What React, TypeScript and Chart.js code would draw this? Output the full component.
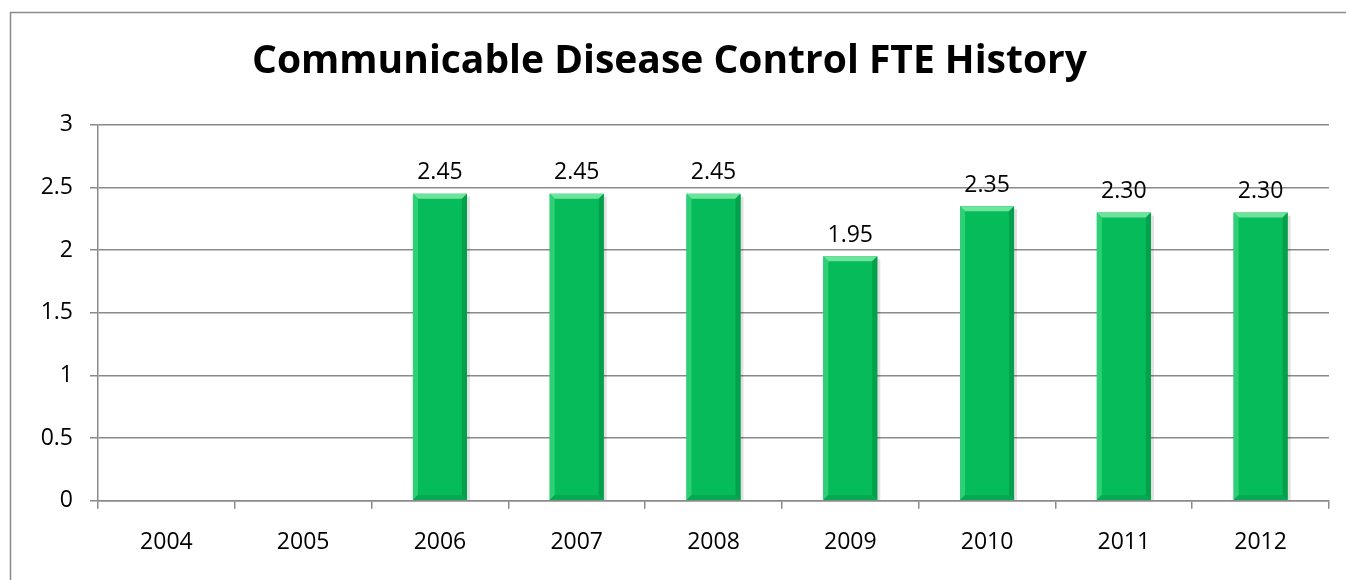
import React, { useEffect, useRef } from "react";
import { Chart, registerables } from "chart.js";

Chart.register(...registerables);

const categories = ["2004", "2005", "2006", "2007", "2008", "2009", "2010", "2011", "2012"];
const fteValues: (number | null)[] = [null, null, 2.45, 2.45, 2.45, 1.95, 2.35, 2.3, 2.3];
const titleText = "Communicable Disease Control FTE History";
const yMax = 3;
const yStep = 0.5;

const FONT = "'Open Sans', 'DejaVu Sans', sans-serif";
const GRID = "#8a8a8a";
const BAR = "#06bb59";

const framePlugin = {
  id: "frame",
  beforeDraw(chart: any) {
    const ctx = chart.ctx;
    ctx.save();
    ctx.fillStyle = "#ffffff";
    ctx.fillRect(0, 0, chart.width, chart.height);
    ctx.strokeStyle = GRID;
    ctx.lineWidth = 1.5;
    ctx.beginPath();
    ctx.moveTo(10.5, chart.height + 5);
    ctx.lineTo(10.5, 12.5);
    ctx.lineTo(chart.width + 5, 12.5);
    ctx.stroke();
    ctx.restore();
  },
};

const bevelPlugin = {
  id: "bevel",
  afterDatasetsDraw(chart: any) {
    const ctx = chart.ctx;
    const meta = chart.getDatasetMeta(0);
    ctx.save();
    meta.data.forEach((bar: any, i: number) => {
      if (fteValues[i] == null) return;
      const { x, y, base, width } = bar.getProps(["x", "y", "base", "width"], true);
      const l = x - width / 2;
      const r = x + width / 2;
      const b = 5;
      ctx.fillStyle = "#6de39c";
      ctx.beginPath();
      ctx.moveTo(l, y);
      ctx.lineTo(r, y);
      ctx.lineTo(r - b, y + b);
      ctx.lineTo(l + b, y + b);
      ctx.closePath();
      ctx.fill();
      ctx.fillStyle = "#2ed076";
      ctx.beginPath();
      ctx.moveTo(l, y);
      ctx.lineTo(l + b, y + b);
      ctx.lineTo(l + b, base - b);
      ctx.lineTo(l, base);
      ctx.closePath();
      ctx.fill();
      ctx.fillStyle = "#04a04b";
      ctx.beginPath();
      ctx.moveTo(r, y);
      ctx.lineTo(r - b, y + b);
      ctx.lineTo(r - b, base - b);
      ctx.lineTo(r, base);
      ctx.closePath();
      ctx.fill();
      ctx.fillStyle = "#07a852";
      ctx.beginPath();
      ctx.moveTo(l, base);
      ctx.lineTo(l + b, base - b);
      ctx.lineTo(r - b, base - b);
      ctx.lineTo(r, base);
      ctx.closePath();
      ctx.fill();
      ctx.fillStyle = "rgba(0,0,0,0.12)";
      ctx.fillRect(r, y + 3, 3, base - y - 3);
    });
    ctx.restore();
  },
};

const labelPlugin = {
  id: "valueLabels",
  afterDatasetsDraw(chart: any) {
    const ctx = chart.ctx;
    const meta = chart.getDatasetMeta(0);
    ctx.save();
    ctx.font = `23px ${FONT}`;
    ctx.fillStyle = "#000000";
    ctx.textAlign = "center";
    ctx.textBaseline = "middle";
    meta.data.forEach((bar: any, i: number) => {
      const v = fteValues[i];
      if (v == null) return;
      ctx.fillText(v.toFixed(2), bar.x, bar.y - 21);
    });
    ctx.restore();
  },
};

export default function App() {
  const ref = useRef<HTMLCanvasElement | null>(null);
  useEffect(() => {
    if (!ref.current) return;
    const chart = new Chart(ref.current, {
      type: "bar",
      data: {
        labels: categories,
        datasets: [
          {
            data: fteValues,
            backgroundColor: BAR,
            borderWidth: 0,
            barPercentage: 0.395,
            categoryPercentage: 1,
          },
        ],
      },
      options: {
        responsive: false,
        animation: false,
        devicePixelRatio: 1,
        layout: { padding: { left: 10, right: 17, top: 0, bottom: 0 } },
        plugins: {
          legend: { display: false },
          tooltip: { enabled: false },
          title: {
            display: true,
            text: titleText,
            color: "#000000",
            font: { family: FONT, size: 39, weight: "bold", lineHeight: 1.2 },
            padding: { top: 38, bottom: 40 },
          },
        },
        scales: {
          x: {
            offset: true,
            grid: {
              offset: true,
              drawOnChartArea: false,
              drawTicks: true,
              tickLength: 8,
              color: GRID,
              lineWidth: 1.5,
            },
            border: { display: true, color: GRID, width: 1.5 },
            ticks: { color: "#000000", font: { family: FONT, size: 23 }, padding: 20 },
            afterFit(scale: any) {
              scale.height = 79.3;
            },
          },
          y: {
            min: 0,
            max: yMax,
            ticks: {
              stepSize: yStep,
              color: "#000000",
              font: { family: FONT, size: 23 },
              padding: 17,
              callback: (v: any) => `${Number(v)}`,
            },
            grid: { color: GRID, lineWidth: 1.5, tickLength: 8 },
            border: { display: true, color: GRID, width: 1.5 },
            afterFit(scale: any) {
              scale.width = 88;
            },
          },
        },
      },
      plugins: [framePlugin, bevelPlugin, labelPlugin],
    });
    return () => chart.destroy();
  }, []);
  return (
    <canvas
      ref={ref}
      width={1346}
      height={580}
      style={{ position: "fixed", left: 0, top: 0, width: 1346, height: 580 }}
    />
  );
}
